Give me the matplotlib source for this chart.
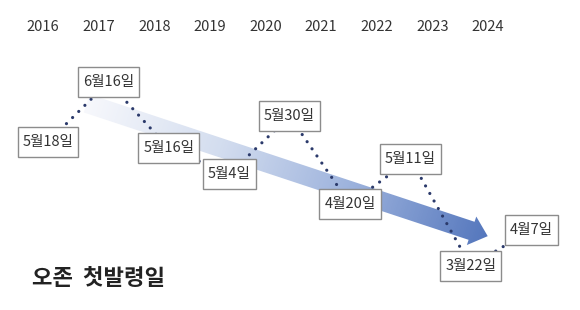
import numpy as np
import pandas as pd
import matplotlib.pyplot as plt
from matplotlib.patches import Polygon, Rectangle
from matplotlib.transforms import IdentityTransform
from matplotlib.colors import LinearSegmentedColormap

plt.rcParams['font.family'] = ['Noto Sans CJK KR', 'DejaVu Sans']

# first ozone alert date per year
years = [2016, 2017, 2018, 2019, 2020, 2021, 2022, 2023, 2024]
months = [5, 6, 5, 5, 5, 4, 5, 3, 4]
days = [18, 16, 16, 4, 30, 20, 11, 22, 7]

doy = [pd.Timestamp(y, m, d).dayofyear for y, m, d in zip(years, months, days)]
labels = [f'{m}월{d}일' for m, d in zip(months, days)]
xs = np.arange(len(years))

# trend arrow (x index, day of year)
arrow_start = (0.64, 157)
arrow_end = (7.28, 95)

fig = plt.figure(figsize=(5.8, 3.1), dpi=100)
ax = fig.add_axes([0, 0, 1, 1])
ax.set_xlim(-0.795, 8.808)
ax.set_ylim(60.5, 205.3)
ax.axis('off')

# year header row, spaced on its own scale
top = fig.add_axes([0, 0, 1, 1])
top.set_xlim(-0.773, 9.658)
top.set_ylim(0, 1)
top.axis('off')
for k, y in enumerate(years):
    top.text(k, 1 - 27 / 310, str(y), ha='center', va='center',
             fontsize=10.5, color='#333333')

# gradient arrow
fig.canvas.draw()
p0 = ax.transData.transform(arrow_start)
p1 = ax.transData.transform(arrow_end)
L = np.hypot(*(p1 - p0))
u = (p1 - p0) / L
n = np.array([-u[1], u[0]])
w, hw, hl = 9.5, 15, 17
base = p1 - u * hl
poly = [p0 + n * w, base + n * w, base + n * hw, p1,
        base - n * hw, base - n * w, p0 - n * w]
patch = Polygon(poly, closed=True, transform=IdentityTransform(),
                facecolor='none', edgecolor='none')
ax.add_patch(patch)

W, H = 580, 310
gx, gy = np.meshgrid(np.arange(W) + 0.5, np.arange(H) + 0.5)
t = ((gx - p0[0]) * u[0] + (gy - p0[1]) * u[1]) / L
t = np.clip(t, 0, 1)
cmap = LinearSegmentedColormap.from_list(
    'arr', ['#f7f8fc', '#d3ddef', '#9bb1dc', '#5577bd'])
im = ax.imshow(cmap(t), extent=(*ax.get_xlim(), *ax.get_ylim()),
               origin='lower', aspect='auto', zorder=1, interpolation='bilinear')
im.set_clip_path(patch)

# dotted line between the dates
ax.plot(xs, doy, color='#2b3a6b', lw=2.3, linestyle=(0, (0.01, 2.7)),
        dash_capstyle='round', zorder=3)

# labels in white boxes (boxes sized in pixels around the text)
texts = []
for x, d, lab in zip(xs, doy, labels):
    texts.append(ax.text(x, d, lab, ha='center', va='center', fontsize=10.5,
                         color='#333333', zorder=5))
fig.canvas.draw()
renderer = fig.canvas.get_renderer()
for x, d, txt in zip(xs, doy, texts):
    bb = txt.get_window_extent(renderer)
    cx, cy = ax.transData.transform((x, d))
    bw = bb.width + 10
    bh = 30
    ax.add_patch(Rectangle((cx - bw / 2, cy - bh / 2), bw, bh,
                           transform=IdentityTransform(), facecolor='white',
                           edgecolor='#8c8c8c', linewidth=1, zorder=4))

fig.text(32 / 580, 1 - 285 / 310, '오존  첫발령일', fontsize=16,
         color='#222222', fontweight='bold', ha='left', va='baseline')

fig.savefig('out.png', dpi=100)
